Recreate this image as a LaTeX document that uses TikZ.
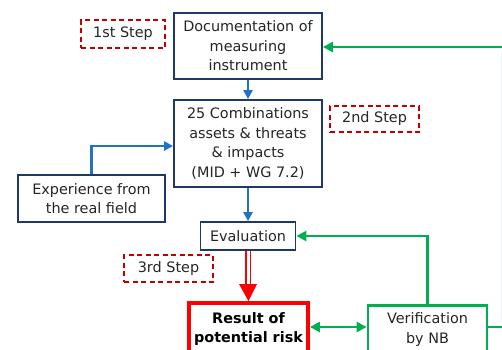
\documentclass[tikz,border=0pt]{standalone}
\usepackage{fontspec}
\setmainfont{DejaVu Sans}
\usetikzlibrary{arrows.meta}
\definecolor{navy}{HTML}{1F3864}
\definecolor{bluearr}{HTML}{1F72C8}
\definecolor{grn}{HTML}{00B050}
\definecolor{dred}{HTML}{C00000}
\definecolor{txt}{HTML}{262626}
\definecolor{faint}{HTML}{E8F4F4}
\begin{document}
\begin{tikzpicture}[x=1pt,y=-1pt,
  box/.style={draw=navy,line width=1.8pt,fill=white,align=center,text=txt,inner sep=0pt,
    font=\fontsize{14.4}{19.4}\selectfont},
  stepbox/.style={draw=dred,line width=1.6pt,dash pattern=on 5pt off 3.5pt,align=center,text=txt,inner sep=0pt,
    font=\fontsize{14.4}{19.4}\selectfont},
  barr/.style={draw=bluearr,line width=2.4pt,-{Triangle[length=9pt,width=9pt]}},
  garr/.style={draw=grn,line width=2.8pt,-{Triangle[length=10pt,width=10pt]}},
  gline/.style={draw=grn,line width=2.8pt},
]
\useasboundingbox (0,0) rectangle (502,349);
\clip (0,0) rectangle (502,349);
% faint edge line
\draw[color=faint,line width=1pt] (501,52) -- (501,322);
% boxes
\node[box,minimum width=148pt,minimum height=66pt] (doc) at (248,46) {Documentation of\\measuring\\instrument};
\node[box,minimum width=148pt,minimum height=87pt] (comb) at (248,143.5) {25 Combinations\\assets \& threats\\\& impacts\\(MID + WG 7.2)};
\node[box,minimum width=147pt,minimum height=47pt] (exp) at (91.5,198.5) {Experience from\\the real field};
\node[box,minimum width=95pt,minimum height=28pt] (eval) at (248,236) {Evaluation};
\node[box,draw=red,line width=3.8pt,minimum width=119pt,minimum height=52pt,
  font=\fontsize{14.4}{19.4}\selectfont\bfseries,text=black] (res) at (248.5,329) {Result of\\potential risk};
\node[box,draw=grn,line width=2.8pt,minimum width=119pt,minimum height=48pt] (ver) at (427.5,329.5) {Verification\\by NB};
% steps
\node[stepbox,minimum width=84pt,minimum height=28pt] (s1) at (123,34) {1st Step};
\node[stepbox,minimum width=89pt,minimum height=26pt] (s2) at (374.5,119) {2nd Step};
\node[stepbox,minimum width=89pt,minimum height=27pt] (s3) at (168.5,268.5) {3rd Step};
% coordinates
\coordinate (rtop) at (502,47);
\coordinate (rbot) at (502,327);
% connectors
\draw[barr] (doc.south) -- (comb.north);
\draw[barr] (comb.south) -- (eval.north);
\draw[barr] (exp.north) |- (comb.west |- 0,146);
\draw[garr] (rtop) -- (doc.east |- rtop);
\draw[gline] (ver.east |- rbot) -- (rbot);
\draw[garr] (ver.north) |- (eval.east);
\draw[grn,line width=2.8pt,{Triangle[length=10pt,width=10pt]}-{Triangle[length=10pt,width=10pt]}] (res.east |- 0,327) -- (ver.west |- 0,327);
\draw[red,line width=1.2pt,double=white,double distance=3pt] (eval.south) -- (248,285);
\fill[red] (239,284) -- (257,284) -- (res.north) -- cycle;
\end{tikzpicture}
\end{document}
